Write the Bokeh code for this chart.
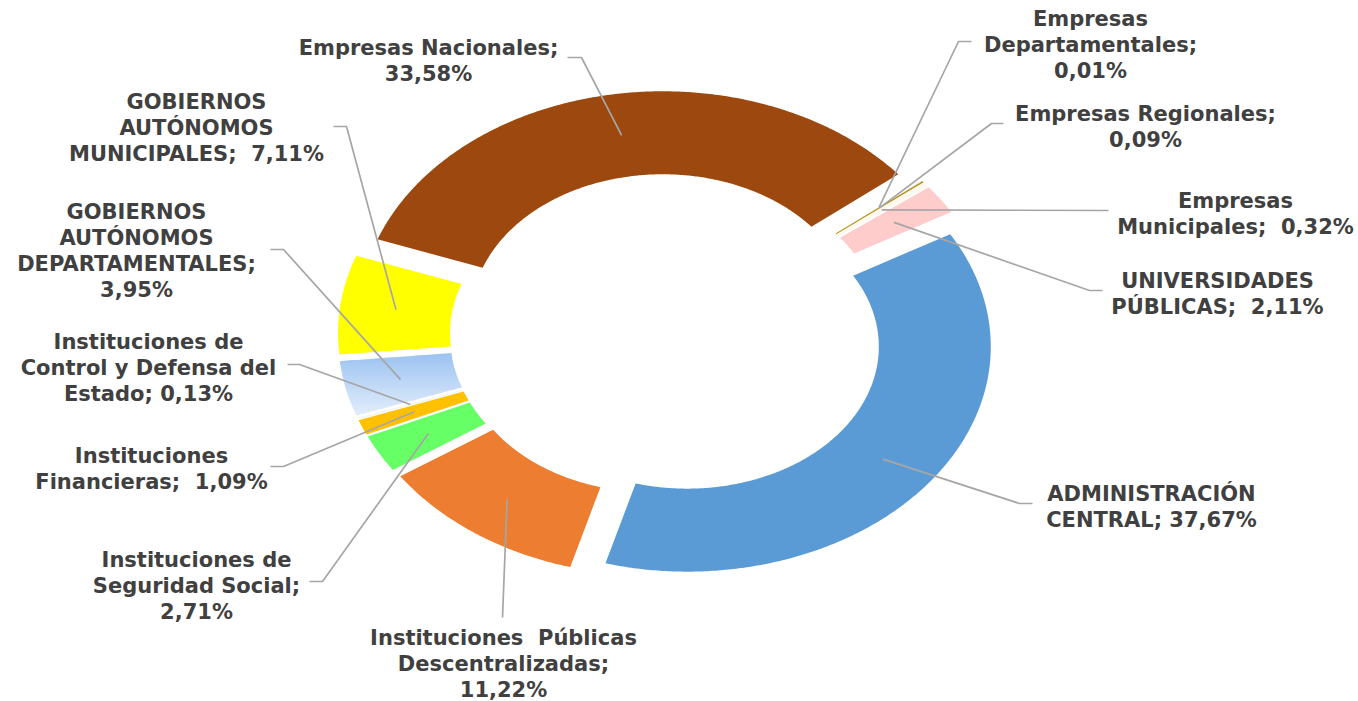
import numpy as np
from bokeh.plotting import figure
from bokeh.models import Range1d, ColumnDataSource
from bokeh.core.properties import value
from bokeh.embed import file_html
from bokeh.resources import INLINE

# ---------------- data (clockwise order, first slice starts at 60 deg) ----------------
categories = [
    "ADMINISTRACIÓN CENTRAL",
    "Instituciones Públicas Descentralizadas",
    "Instituciones de Seguridad Social",
    "Instituciones Financieras",
    "Instituciones de Control y Defensa del Estado",
    "GOBIERNOS AUTÓNOMOS DEPARTAMENTALES",
    "GOBIERNOS AUTÓNOMOS MUNICIPALES",
    "Empresas Nacionales",
    "Empresas Departamentales",
    "Empresas Regionales",
    "Empresas Municipales",
    "UNIVERSIDADES PÚBLICAS",
]
values = [37.67, 11.22, 2.71, 1.09, 0.13, 3.95, 7.11, 33.58, 0.01, 0.09, 0.32, 2.11]

# label wrapping (text), {v} is replaced by the value; "~" marks a wide (double) space
label_templates = [
    "ADMINISTRACIÓN\nCENTRAL; {v}",
    "Instituciones~Públicas\nDescentralizadas;\n{v}",
    "Instituciones de\nSeguridad Social;\n{v}",
    "Instituciones\nFinancieras;~{v}",
    "Instituciones de\nControl y Defensa del\nEstado; {v}",
    "GOBIERNOS\nAUTÓNOMOS\nDEPARTAMENTALES;\n{v}",
    "GOBIERNOS\nAUTÓNOMOS\nMUNICIPALES;~{v}",
    "Empresas Nacionales;\n{v}",
    "Empresas\nDepartamentales;\n{v}",
    "Empresas Regionales;\n{v}",
    "Empresas\nMunicipales;~{v}",
    "UNIVERSIDADES\nPÚBLICAS;~{v}",
]

# ---------------- styles / layout ----------------
colors = ["#5B9BD5", "#ED7D31", "#66FF66", "#FFC000", "#F4F4F4", "GRADIENT",
          "#FFFF00", "#9C480E", "#7F6000", "#B8900F", "#FFF8EE", "#FFCCCC"]
grad_top, grad_bot = (155, 194, 241), (226, 237, 251)
W, H = 1358, 701
CX, CY = 666.5, 334.5       # pixel centre of the doughnut
R_OUT, R_IN = 225.0, 142.0  # vertical radii (px)
STRETCH = 1.349             # horizontal stretch of the picture
EXPLODE = 19.0
START = 60.0                # degrees clockwise from 12 o'clock

# label block centre x, first line y ; leader: (x at label, x at elbow, y)
label_pos = [(1151, 493), (503, 637), (196, 559), (151, 455), (148, 341),
             (136, 211), (196, 101), (428, 47), (1090, 18), (1145, 113),
             (1235, 200), (1217, 280)]
leader_pos = [(1032, 1019, 503), (502, 502, 617), (309, 322, 581), (270, 283, 466),
              (287, 299, 364), (270, 283, 249), (333, 346, 126), (567, 581, 57),
              (971, 958, 41), (1003, 991, 123), (1108, 1108, 210), (1102, 1089, 290)]
LINE_H = 26
TEXT_COLOR = "#404040"
LEADER_COLOR = "#A6A6A6"

# ---------------- geometry ----------------
vals = np.array(values, dtype=float)
fr = vals / vals.sum() * 360.0
starts = START + np.concatenate([[0], np.cumsum(fr)[:-1]])
ends = starts + fr


def to_px(rho, th, thm):
    t = np.radians(th)
    m = np.radians(thm)
    x = CX + STRETCH * (rho * np.sin(t) + EXPLODE * np.sin(m))
    y = CY - (rho * np.cos(t) + EXPLODE * np.cos(m))
    return x, y


def wedge(a, b):
    thm = (a + b) / 2
    n = max(3, int(abs(b - a) * 2) + 2)
    th = np.linspace(a, b, n)
    xo, yo = to_px(R_OUT, th, thm)
    xi, yi = to_px(R_IN, th[::-1], thm)
    return list(np.concatenate([xo, xi])), list(np.concatenate([yo, yi]))


def clip_band(xs, ys, y0, y1):
    pts = list(zip(xs, ys))

    def clip(pts, keep, yc):
        out = []
        for i in range(len(pts)):
            cur, prev = pts[i], pts[i - 1]
            kc, kp = keep(cur), keep(prev)
            if kc:
                if not kp:
                    out.append((prev[0] + (cur[0] - prev[0]) * (yc - prev[1]) / (cur[1] - prev[1]), yc))
                out.append(cur)
            elif kp:
                out.append((prev[0] + (cur[0] - prev[0]) * (yc - prev[1]) / (cur[1] - prev[1]), yc))
        return out

    pts = clip(pts, lambda p: p[1] >= y0, y0)
    if pts:
        pts = clip(pts, lambda p: p[1] <= y1, y1)
    return pts


p = figure(width=W, height=H, output_backend="svg", toolbar_location=None,
           x_range=Range1d(0, W), y_range=Range1d(H, 0),
           x_axis_type=None, y_axis_type=None, min_border=0)
p.outline_line_color = None
p.grid.visible = False
p.background_fill_color = "white"
p.border_fill_color = "white"

wx, wy, wc = [], [], []
for i, (a, b) in enumerate(zip(starts, ends)):
    xs, ys = wedge(a, b)
    if colors[i] == "GRADIENT":
        y_min, y_max = min(ys), max(ys)
        nb = 24
        edges = np.linspace(y_min, y_max, nb + 1)
        for k in range(nb):
            pts = clip_band(xs, ys, edges[k] - 0.5, edges[k + 1] + 0.5)
            if len(pts) < 3:
                continue
            f = (k + 0.5) / nb
            c = tuple(int(round(grad_top[j] + (grad_bot[j] - grad_top[j]) * f)) for j in range(3))
            wx.append([q[0] for q in pts])
            wy.append([q[1] for q in pts])
            wc.append("#%02x%02x%02x" % c)
    else:
        wx.append(xs)
        wy.append(ys)
        wc.append(colors[i])

p.patches(xs="xs", ys="ys", fill_color="c", line_color=None,
          source=ColumnDataSource(dict(xs=wx, ys=wy, c=wc)))

# leader lines: label end -> elbow -> centre of the slice
lx, ly = [], []
for i, (a, b) in enumerate(zip(starts, ends)):
    thm = (a + b) / 2
    ax, ay = to_px((R_OUT + R_IN) / 2, thm, thm)
    x0, x1, y0 = leader_pos[i]
    lx.append([x0, x1, float(ax)])
    ly.append([y0, y0, float(ay)])
p.multi_line(xs=lx, ys=ly, line_color=LEADER_COLOR, line_width=1.7)

# labels
tx, ty, tt = [], [], []
for i, tmpl in enumerate(label_templates):
    v = ("%.2f" % values[i]).replace(".", ",") + "%"
    lines = tmpl.format(v=v).replace("~", " \u00a0").split("\n")
    x0, y0 = label_pos[i]
    for k, ln in enumerate(lines):
        tx.append(x0)
        ty.append(y0 + k * LINE_H)
        tt.append(ln)
p.text(x="x", y="y", text="t", source=ColumnDataSource(dict(x=tx, y=ty, t=tt)),
       text_font=value("DejaVu Sans"), text_font_style="bold",
       text_font_size=value("21px"), text_color=TEXT_COLOR,
       text_align="center", text_baseline="middle")

open("out.html", "w").write(file_html(p, INLINE))
